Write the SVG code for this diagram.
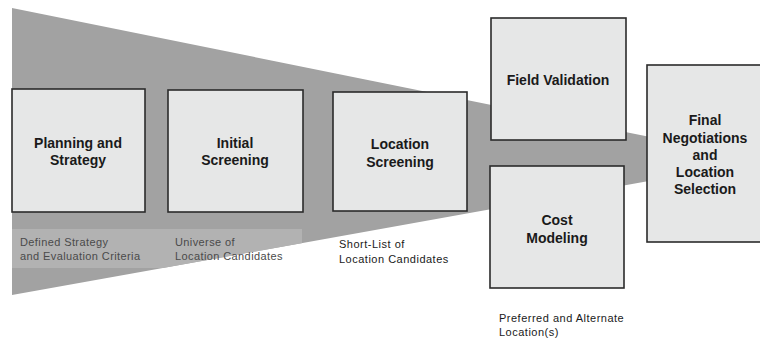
<svg xmlns="http://www.w3.org/2000/svg" width="760" height="339" viewBox="0 0 760 339">
<defs>
<clipPath id="funnelClip"><polygon points="12,8 660,139 660,179 12,295"/></clipPath>
</defs>
<style>
.box{fill:#e6e7e7;stroke:#2b2b2b;stroke-width:1.6}
.t{font-family:"Liberation Sans",Arial,Helvetica,sans-serif;font-weight:bold;font-size:14px;fill:#1a1a1a;text-anchor:middle}
.lbl{font-family:"Liberation Sans",Arial,Helvetica,sans-serif;font-size:11px;letter-spacing:0.4px;fill:#4a4a4a}
.lbl2{font-family:"Liberation Sans",Arial,Helvetica,sans-serif;font-size:11px;letter-spacing:0.5px;fill:#1a1a1a}
</style>
<rect width="760" height="339" fill="#ffffff"/>
<g id="funnel">
<polygon points="12,8 660,139 660,179 12,295" fill="#a2a2a2"/>
<rect x="12" y="229" width="290" height="39" fill="#b2b2b2" clip-path="url(#funnelClip)"/>
</g>
<g id="connectors"></g>
<g id="planning">
<rect class="box" x="12" y="89" width="133" height="123"/>
<text class="t" x="78" y="148">Planning and</text>
<text class="t" x="78" y="165">Strategy</text>
</g>
<g id="initial">
<rect class="box" x="168" y="90" width="135" height="122"/>
<text class="t" x="235" y="148">Initial</text>
<text class="t" x="235" y="165">Screening</text>
</g>
<g id="location">
<rect class="box" x="333" y="92" width="134" height="119"/>
<text class="t" x="400" y="149">Location</text>
<text class="t" x="400" y="167">Screening</text>
</g>
<g id="field">
<rect class="box" x="491" y="18" width="135" height="122"/>
<text class="t" x="558" y="85">Field Validation</text>
</g>
<g id="cost">
<rect class="box" x="490" y="166" width="134" height="122"/>
<text class="t" x="557" y="225">Cost</text>
<text class="t" x="557" y="243">Modeling</text>
</g>
<g id="final">
<rect class="box" x="647" y="65" width="116" height="177"/>
<text class="t" x="705" y="125">Final</text>
<text class="t" x="705" y="143">Negotiations</text>
<text class="t" x="705" y="160">and</text>
<text class="t" x="705" y="177">Location</text>
<text class="t" x="705" y="194">Selection</text>
</g>
<g id="labels">
<text class="lbl" x="20" y="246">Defined Strategy</text>
<text class="lbl" x="20" y="260">and Evaluation Criteria</text>
<text class="lbl" x="175" y="246">Universe of</text>
<text class="lbl" x="175" y="260">Location Candidates</text>
<text class="lbl2" x="339" y="248">Short-List of</text>
<text class="lbl2" x="339" y="263">Location Candidates</text>
<text class="lbl2" x="499" y="322">Preferred and Alternate</text>
<text class="lbl2" x="499" y="336">Location(s)</text>
</g>
</svg>
